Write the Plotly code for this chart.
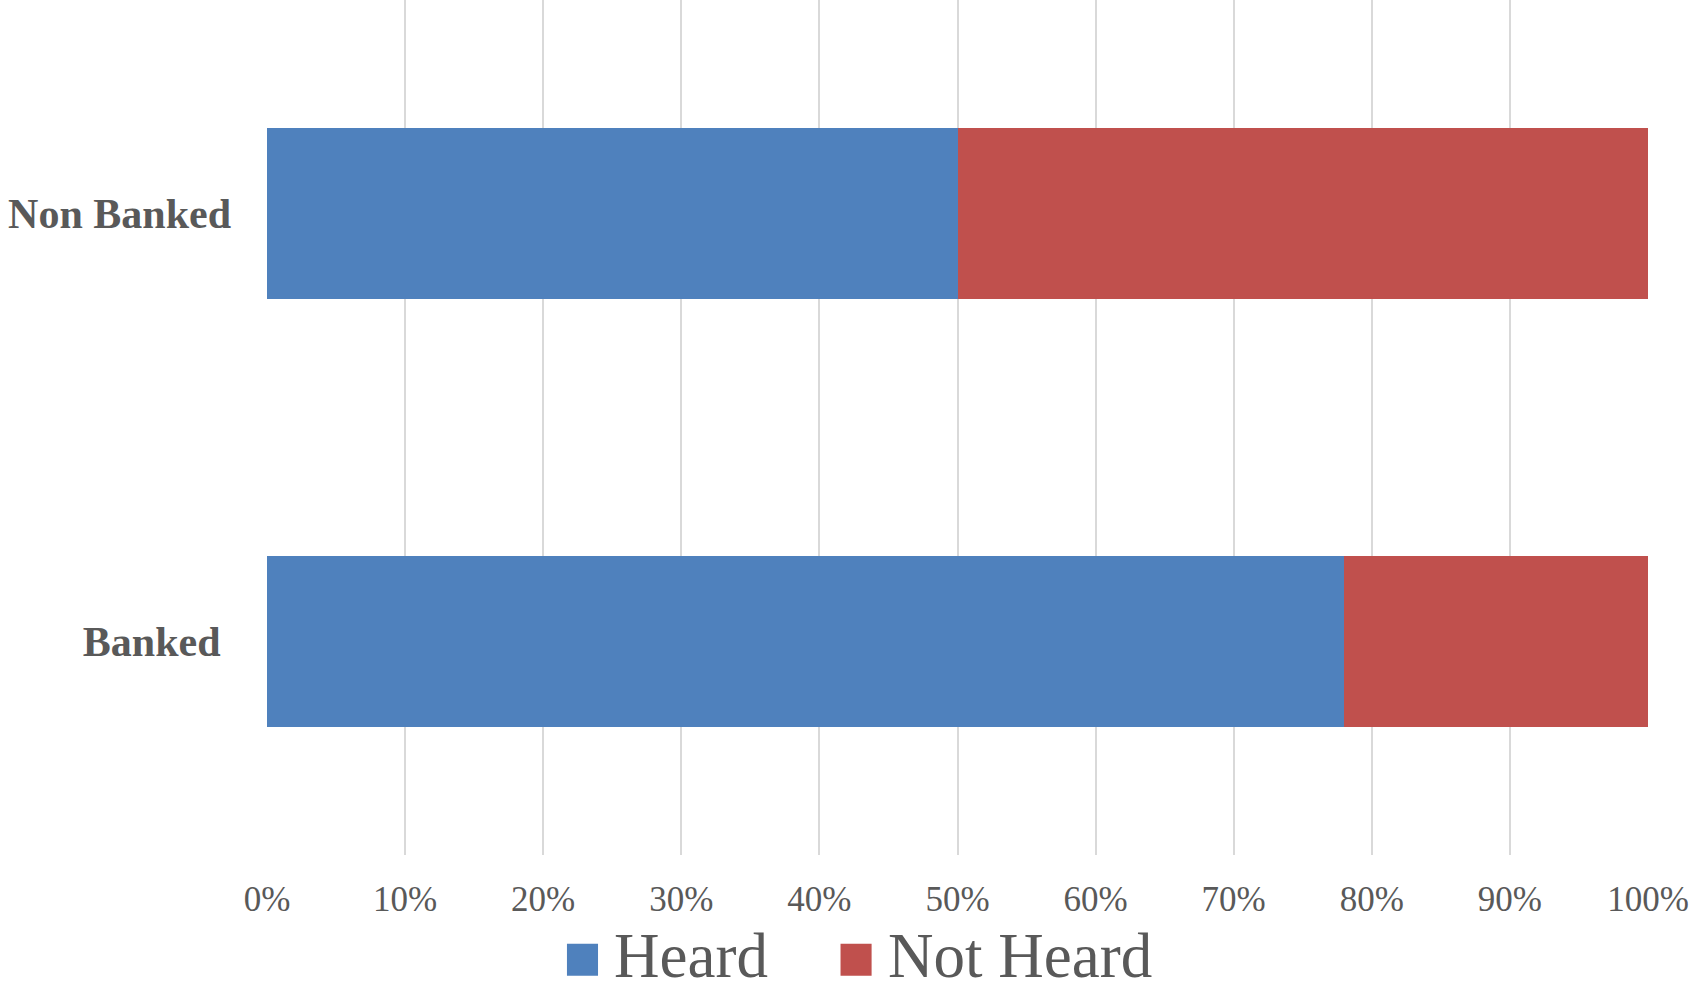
import plotly.graph_objects as go

# Awareness by banking status (share of respondents)
groups = ["Banked", "Non Banked"]
heard = [0.78, 0.50]
not_heard = [0.22, 0.50]
series_names = ["Heard", "Not Heard"]
series_colors = ["#4F81BD", "#C0504D"]
tick_vals = [0, 0.1, 0.2, 0.3, 0.4, 0.5, 0.6, 0.7, 0.8, 0.9, 1.0]
tick_text = ["0%", "10%", "20%", "30%", "40%", "50%", "60%", "70%", "80%", "90%", "100%"]
group_labels = ["Banked\u00a0", "Non Banked"]

TEXT = "#595959"
SERIF = "Liberation Serif, Times New Roman, serif"

fig = go.Figure()
for name, vals, color in zip(series_names, [heard, not_heard], series_colors):
    fig.add_trace(go.Bar(
        y=groups, x=vals, name=name, orientation="h",
        marker=dict(color=color, line=dict(width=0)),
        showlegend=False,
    ))

# Legend drawn as large colour swatches with text beside them
sw_x = [0.2172, 0.4153]
for name, color, x0 in zip(series_names, series_colors, sw_x):
    fig.add_shape(type="rect", xref="paper", yref="paper",
                  x0=x0, x1=x0 + 0.0225, y0=-0.1413, y1=-0.1039,
                  fillcolor=color, line=dict(width=0))
    fig.add_annotation(xref="paper", yref="paper", x=x0 + 0.0225 + 0.011, y=-0.1602,
                       text=name, showarrow=False, xanchor="left", yanchor="bottom",
                       borderpad=0,
                       font=dict(family=SERIF, size=63, color=TEXT))

fig.update_layout(
    width=1691, height=992,
    margin=dict(l=267, r=43, t=0, b=137),
    barmode="stack", bargap=0.6,
    plot_bgcolor="white", paper_bgcolor="white",
    xaxis=dict(range=[0, 1], tickvals=tick_vals, ticktext=tick_text,
               showgrid=True, gridcolor="#D9D9D9", gridwidth=1.5,
               zeroline=False, showline=False, ticks="",
               tickfont=dict(family=SERIF, size=35, color=TEXT),
               ticklabelstandoff=20),
    yaxis=dict(categoryorder="array", categoryarray=groups,
               tickvals=groups, ticktext=group_labels,
               showgrid=False, zeroline=False, showline=False, ticks="",
               tickfont=dict(family=SERIF, size=42, color=TEXT, weight="bold"),
               ticklabelstandoff=35),
    showlegend=False,
)

fig.write_html("out.html")
